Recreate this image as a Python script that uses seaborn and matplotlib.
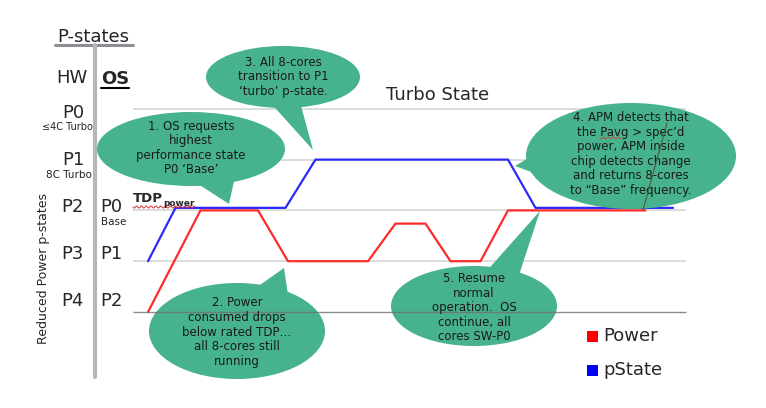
import numpy as np
import pandas as pd
import matplotlib
matplotlib.use('Agg')
import matplotlib.pyplot as plt
import matplotlib.transforms as mtrans
from matplotlib.patches import Ellipse, Polygon, Rectangle
import seaborn as sns

# data: time (arbitrary units) vs state level (0 = P4 ... 4 = P0)
t_power = [0, 10.5, 22, 28, 44, 49.5, 55.5, 60.5, 66.5, 72, 99.5]
power = [0, 2, 2, 1, 1, 1.74, 1.74, 1, 1, 2, 2]
t_pstate = [0, 5.5, 27.5, 33.5, 72, 77.5, 105]
pstate = [1, 2.05, 2.05, 3, 3, 2.05, 2.05]
levels = [0, 1, 2, 3, 4]
hw_labels = ['P4', 'P3', 'P2', 'P1', 'P0']
os_labels = ['P2', 'P1', 'P0']
series_names = ['Power', 'pState']
series_colors = ['#ff2a2a', '#2a2aff']

df = pd.concat([
    pd.DataFrame({'t': t_power, 'level': power, 'series': 'Power'}),
    pd.DataFrame({'t': t_pstate, 'level': pstate, 'series': 'pState'}),
])

sns.set_theme(style='white')
plt.rcParams['font.family'] = ['DejaVu Sans']

W, H = 766, 408
fig = plt.figure(figsize=(W / 100, H / 100), dpi=100)
ax = fig.add_axes([0, 0, 1, 1])
ax.set_axis_off()

# pixel-space transform for the annotations
pix = mtrans.Affine2D().scale(1 / W, -1 / H).translate(0, 1) + fig.transFigure

# reference levels
ax.hlines(levels[1:], -3, 107.6, color='#d9d9d9', lw=1.3, zorder=1)
ax.hlines(levels[0], -3, 107.6, color='#707070', lw=1.0, alpha=0.8, zorder=4)

sns.lineplot(data=df, x='t', y='level', hue='series', sort=False, estimator=None,
             palette=dict(zip(series_names, series_colors)), lw=1.6, legend=False,
             ax=ax, zorder=2)
# 1 time unit = 5 px, 1 level = 50.8 px, origin at pixel (148, 312)
ax.set_xlim(-148 / 5, (W - 148) / 5)
ax.set_ylim((312 - H) / 50.8, 312 / 50.8)
ax.set_axis_off()

# left header column
ax.text(57, 42, 'P-states', transform=pix, fontsize=13, ha='left', va='baseline')
ax.plot([55, 133], [45, 45], transform=pix, color='#8c9096', lw=2.2)
ax.plot([95, 95], [45, 377], transform=pix, color='#b4b8be', lw=3)
ax.text(87, 83, 'HW', transform=pix, fontsize=13, ha='right', va='baseline')
ax.text(101, 84, 'OS', transform=pix, fontsize=13, fontweight='bold', ha='left', va='baseline')
ax.plot([101, 129], [88, 88], transform=pix, color='black', lw=1.5)

hw_base = [306, 259, 212, 165, 118]
for lab, y in zip(hw_labels, hw_base):
    ax.text(84, y, lab, transform=pix, fontsize=13, ha='right', va='baseline')
for lab, y in zip(os_labels, hw_base[:3]):
    ax.text(100, y, lab, transform=pix, fontsize=13, ha='left', va='baseline')

ax.text(93, 130, '≤4C Turbo', transform=pix, fontsize=7, ha='right', va='baseline')
ax.text(92, 178, '8C Turbo', transform=pix, fontsize=7.5, ha='right', va='baseline')
ax.text(101, 225, 'Base', transform=pix, fontsize=7.5, ha='left', va='baseline')
ax.text(44, 268, 'Reduced Power p-states', transform=pix, fontsize=9, rotation=90,
        ha='center', va='center')

ax.text(133, 198, 'TDP', transform=pix, fontsize=9.5, fontweight='bold', ha='left', va='center')
ax.text(163, 203, 'power', transform=pix, fontsize=6.5, fontweight='bold', ha='left', va='center')
sq = np.linspace(133, 195, 60)
ax.plot(sq, 207 + 1.2 * np.sin((sq - 133) * 1.3), transform=pix, color='#e03030', lw=0.7)

ax.text(386, 100, 'Turbo State', transform=pix, fontsize=13, ha='left', va='baseline')

# callout bubbles
green = '#46b38c'
bubbles = [
    ((191, 149), 188, 74, [(195, 182), (236, 172), (229, 204)], (191, 148),
     '1. OS requests\nhighest\nperformance state\nP0 ‘Base’'),
    ((237, 331), 176, 96, [(250, 292), (284, 268), (288, 295)], (237, 332),
     '2. Power\nconsumed drops\nbelow rated TDP…\nall 8-cores still\nrunning'),
    ((283, 77), 154, 62, [(268, 100), (300, 102), (313, 150)], (283, 77),
     '3. All 8-cores\ntransition to P1\n‘turbo’ p-state.'),
    ((631, 156), 210, 106, [(545, 148), (515, 166), (548, 178)], (631, 154),
     '4. APM detects that\nthe Pavg > spec’d\npower, APM inside\nchip detects change\nand returns 8-cores\nto “Base” frequency.'),
    ((474, 306), 166, 80, [(484, 274), (540, 211), (518, 278)], (474, 308),
     '5. Resume\nnormal\noperation.  OS\ncontinue, all\ncores SW-P0'),
]
for center, w, h, tri, tpos, txt in bubbles:
    ax.add_patch(Ellipse(center, w, h, transform=pix, facecolor=green, edgecolor='none', zorder=3))
    ax.add_patch(Polygon(tri, closed=True, transform=pix, facecolor=green, edgecolor='none', zorder=3))
    ax.text(tpos[0], tpos[1], txt, transform=pix, fontsize=8.5, color='#1a1a1a',
            ha='center', va='center', multialignment='center', linespacing=1.15, zorder=5)

# spell-check squiggle under Pavg and stray line inside bubble 4
sq = np.linspace(600, 621, 25)
ax.plot(sq, 138 + 1.0 * np.sin((sq - 600) * 1.3), transform=pix, color='#d04040', lw=0.6, zorder=6)
ax.plot([643, 667], [210, 123], transform=pix, color='#4b5a44', lw=0.8, zorder=6)

# legend
for (name, col), y in zip(zip(series_names, ['#ff0000', '#0000ff']), [336, 370]):
    ax.add_patch(Rectangle((587, y - 5.5), 11, 11, transform=pix, facecolor=col, edgecolor='none'))
    ax.text(603, y, name, transform=pix, fontsize=13, ha='left', va='center')

fig.savefig('out.png', dpi=100)
